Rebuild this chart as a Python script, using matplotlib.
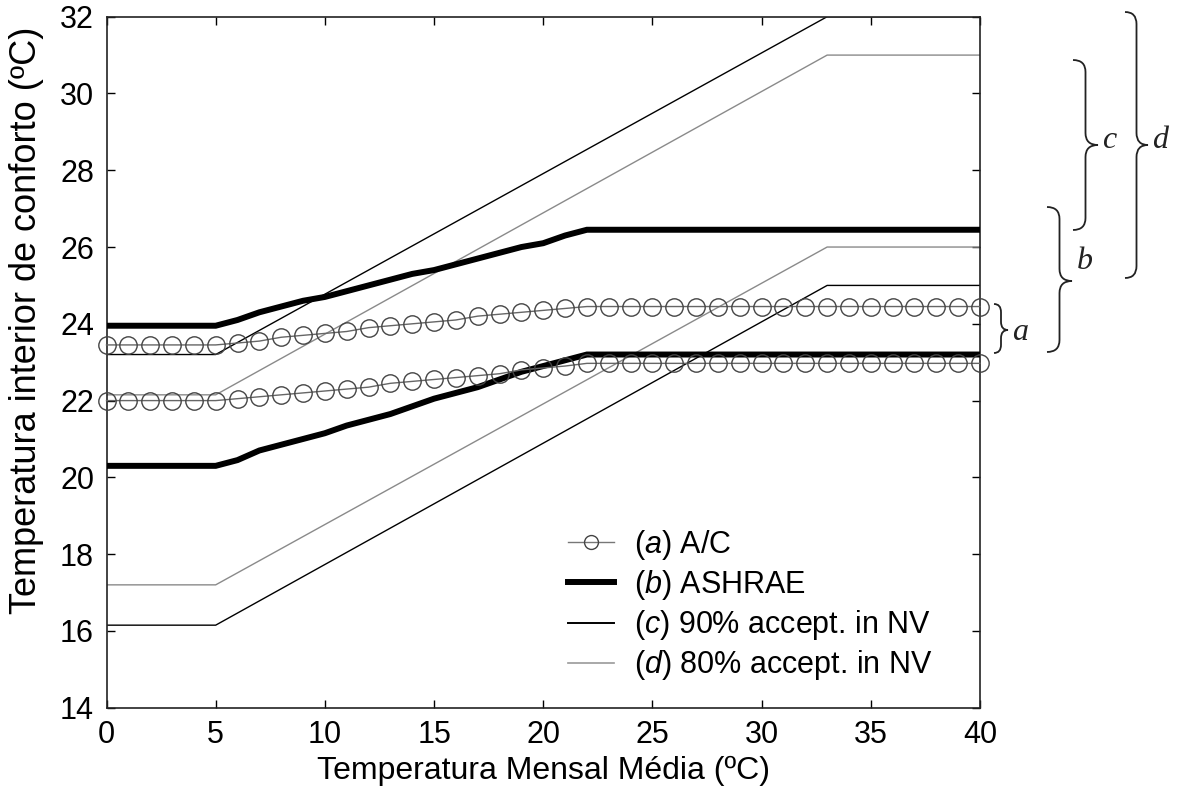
import matplotlib
matplotlib.use("Agg")
import matplotlib.pyplot as plt
from matplotlib.path import Path
from matplotlib.patches import PathPatch
from matplotlib.lines import Line2D

plt.rcParams['font.family'] = ['Liberation Sans', 'DejaVu Sans']
plt.rcParams['mathtext.fontset'] = 'custom'
plt.rcParams['mathtext.it'] = 'Liberation Sans:italic'
plt.rcParams['mathtext.rm'] = 'Liberation Sans'

# ---- data ----
x_int = list(range(0, 41))
ac_upper = [23.45]*6 + [23.5, 23.55, 23.65, 23.7, 23.75, 23.8, 23.9, 23.95, 24.0, 24.05, 24.1,
                        24.2, 24.25, 24.3, 24.35, 24.4, 24.45] + [24.45]*18
ac_lower = [22.0]*6 + [22.05, 22.1, 22.15, 22.2, 22.25, 22.3, 22.35, 22.45, 22.5, 22.55, 22.6,
                       22.65, 22.7, 22.8, 22.85, 22.9, 22.97] + [22.97]*18
ashrae_upper = [23.95]*6 + [24.1, 24.3, 24.45, 24.6, 24.7, 24.85, 25.0, 25.15, 25.3, 25.4, 25.55,
                            25.7, 25.85, 26.0, 26.1, 26.3, 26.45] + [26.45]*18
ashrae_lower = [20.3]*6 + [20.45, 20.7, 20.85, 21.0, 21.15, 21.35, 21.5, 21.65, 21.85, 22.05, 22.2,
                           22.35, 22.55, 22.75, 22.9, 23.05, 23.2] + [23.2]*18

x_nv = [0, 5, 33, 40]
nv_outer_upper = [23.2, 23.2, 32.0, 32.0]
nv_outer_lower = [16.15, 16.15, 25.0, 25.0]
nv_inner_upper = [22.15, 22.15, 31.0, 31.0]
nv_inner_lower = [17.2, 17.2, 26.0, 26.0]

labels = [r"($\it{a}$) A/C", r"($\it{b}$) ASHRAE",
          r"($\it{c}$) 90% accept. in NV", r"($\it{d}$) 80% accept. in NV"]
xticks = [0, 5, 10, 15, 20, 25, 30, 35, 40]
yticks = [14, 16, 18, 20, 22, 24, 26, 28, 30, 32]
xlabel = "Temperatura Mensal Média (ºC)"
ylabel = "Temperatura interior de conforto (ºC)"

W, H = 1178, 795
fig = plt.figure(figsize=(W/100, H/100), dpi=100)
ax = fig.add_axes([106.5/W, 1-707.7/H, (980-106.5)/W, (707.7-16.7)/H])

gray = '#8a8a8a'
# NV lines
ax.plot(x_nv, nv_outer_upper, color='black', lw=1.0, zorder=2)
ax.plot(x_nv, nv_outer_lower, color='black', lw=1.0, zorder=2)
ax.plot(x_nv, nv_inner_upper, color=gray, lw=1.0, zorder=2)
ax.plot(x_nv, nv_inner_lower, color=gray, lw=1.0, zorder=2)
# ASHRAE
ax.plot(x_int, ashrae_upper, color='black', lw=4.3, solid_joinstyle='miter', zorder=3)
ax.plot(x_int, ashrae_lower, color='black', lw=4.3, solid_joinstyle='miter', zorder=3)
# A/C
for arr in (ac_upper, ac_lower):
    ax.plot(x_int, arr, color='#666666', lw=1.0, marker='o', ms=12.5, mfc='none',
            mec='#444444', mew=1.0, zorder=4, clip_on=False)

ax.set_xlim(0, 40)
ax.set_ylim(14, 32)
ax.set_xticks(xticks)
ax.set_yticks(yticks)
ax.tick_params(direction='in', length=6, width=1, top=True, right=True,
               labelsize=22, colors='black')
ax.tick_params(axis='x', pad=9)
ax.tick_params(axis='y', pad=9)
for s in ax.spines.values():
    s.set_linewidth(1.2)
    s.set_color('#222222')
ax.set_xlabel(xlabel, fontsize=23, labelpad=4)
ax.set_ylabel(ylabel, fontsize=26)
ax.yaxis.set_label_coords((44 - 106.5) / 873.5, (707.7 - 320) / 691)

# legend
handles = [
    Line2D([], [], color='#777777', lw=1.0, marker='o', ms=10, mfc='none', mec='#444444'),
    Line2D([], [], color='black', lw=4.3),
    Line2D([], [], color='black', lw=1.4),
    Line2D([], [], color='#999999', lw=1.2),
]
fig.legend(handles, labels, loc='upper left', bbox_to_anchor=(568/W, 1-528/H),
           frameon=False, fontsize=22, handlelength=1.5, handletextpad=0.65,
           labelspacing=0.2, borderaxespad=0, borderpad=0)

# braces
def brace(xl, xr, top, bot, tip_y):
    xm = xl + 0.5*(xr - xl)
    r = min(12, (bot - top)/6)
    verts = [(xl, top), (xm, top), (xm, top + r),
             (xm, tip_y - r), (xm, tip_y), (xr, tip_y),
             (xm, tip_y), (xm, tip_y + r),
             (xm, bot - r), (xm, bot), (xl, bot)]
    codes = [Path.MOVETO, Path.CURVE3, Path.CURVE3,
             Path.LINETO, Path.CURVE3, Path.CURVE3,
             Path.CURVE3, Path.CURVE3,
             Path.LINETO, Path.CURVE3, Path.CURVE3]
    verts = [(vx / W, 1 - vy / H) for vx, vy in verts]
    p = PathPatch(Path(verts, codes), transform=fig.transFigure, fill=False,
                  lw=1.3, edgecolor='#222222')
    fig.add_artist(p)

brace(994, 1008, 304, 353, 330)
brace(1047, 1072, 207, 352, 281)
brace(1073, 1098, 60, 230, 145)
brace(1125, 1148, 12, 278, 145)

bfont = dict(family='Liberation Serif', style='italic', fontsize=23, color='#222222',
             va='center', ha='left')
fig.text(1012/W, 1-333/H, 'a', **bfont)
fig.text(1077/W, 1-262/H, 'b', **bfont)
fig.text(1102/W, 1-140/H, 'c', **bfont)
fig.text(1152/W, 1-140/H, 'd', **bfont)

fig.savefig('out.png', dpi=100)
